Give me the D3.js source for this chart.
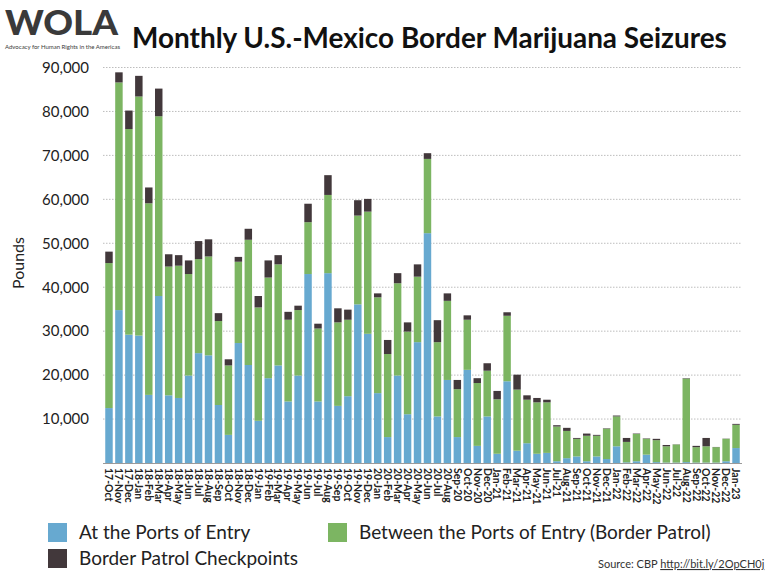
<!DOCTYPE html>
<html><head><meta charset="utf-8">
<script src="https://cdn.jsdelivr.net/npm/d3@7"></script>
<style>body{margin:0;background:#fff}svg{display:block}</style>
</head><body>
<svg id="c" width="768" height="576"></svg>
<script>
const months = ["17-Oct","17-Nov","17-Dec","18-Jan","18-Feb","18-Mar","18-Apr","18-May","18-Jun","18-Jul","18-Aug","18-Sep","18-Oct","18-Nov","18-Dec","19-Jan","19-Feb","19-Mar","19-Apr","19-May","19-Jun","19-Jul","19-Aug","19-Sep","19-Oct","19-Nov","19-Dec","20-Jan","20-Feb","20-Mar","20-Apr","20-May","20-Jun","20-Jul","20-Aug","Sep-20","Oct-20","Nov-20","Dec-20","Jan-21","Feb-21","Mar-21","Apr-21","May-21","Jun-21","Jul-21","Aug-21","Sep-21","Oct-21","Nov-21","Dec-21","Jan-22","Feb-22","Mar-22","Apr-22","May-22","Jun-22","Jul-22","Aug-22","Sep-22","Oct-22","Nov-22","Dec-22","Jan-23"];
const portsOfEntry = [12500,34800,29200,29000,15500,38000,15400,14800,19900,25000,24500,13200,6400,27300,22300,9600,19300,22200,14000,19900,43000,14000,43200,13000,15200,36100,29400,15900,5900,19900,11100,27500,52300,10600,18900,5900,21200,3900,10600,2100,18600,2800,4500,2100,2300,400,1100,1500,400,1500,900,3800,150,400,1900,200,100,100,200,100,100,100,400,3400];
const betweenPorts = [33000,51800,46800,54400,43600,40900,29300,30100,23100,21400,22500,19100,15800,18500,28500,25800,22900,23000,18600,14900,11800,16600,17800,19000,17400,20200,27800,21800,18900,21000,18800,14900,16900,16900,18000,10900,11400,14300,10400,12400,14900,13900,9900,11700,11500,7900,6200,4000,5800,4700,6900,6800,4650,6200,3600,5000,3700,4100,19000,3500,3700,3500,5100,5300];
const checkpoints = [2600,2300,4200,4700,3600,6300,2800,2400,3100,4100,3900,1800,1400,1100,2500,2600,3900,2100,1800,1000,4200,1100,4500,3200,2300,3500,2900,900,3200,2300,2100,2800,1300,5000,1700,2100,1000,1100,1700,1900,800,3400,1000,1000,600,300,700,200,500,200,100,200,900,100,100,300,300,50,100,300,1900,50,50,200];
const seriesNames = ["At the Ports of Entry","Between the Ports of Entry (Border Patrol)","Border Patrol Checkpoints"];
const seriesColors = ["#67a9d0","#7cb562","#42383b"];
const yTicks = [10000,20000,30000,40000,50000,60000,70000,80000,90000];

const svg = d3.select("#c");
const font = "Lato, 'Open Sans', sans-serif";

const x = d3.scaleBand().domain(months).range([104,741]).paddingInner(0.25).paddingOuter(0.125);
const y = d3.scaleLinear().domain([0,90000]).range([463,67.5]);

// gridlines
svg.append("g").selectAll("line").data(yTicks).join("line")
  .attr("x1",103).attr("x2",742).attr("y1",d=>y(d)).attr("y2",d=>y(d))
  .attr("stroke","#bdbdbd").attr("stroke-width",1).attr("stroke-dasharray","1.5,1.5");

// y axis labels
const yAxis = d3.axisLeft(y).tickValues(yTicks).tickSize(0).tickPadding(0).tickFormat(d3.format(","));
const ya = svg.append("g").attr("transform","translate(89,0)").call(yAxis);
ya.select(".domain").remove();
ya.selectAll("text").attr("font-family",font).attr("font-size",15).attr("fill","#222");

// stacked bars
const table = months.map((m,i)=>({m, a:portsOfEntry[i], b:betweenPorts[i], c:checkpoints[i]}));
const stack = d3.stack().keys(["a","b","c"])(table);
svg.append("g").selectAll("g").data(stack).join("g").attr("fill",(d,i)=>seriesColors[i])
  .selectAll("rect").data(d=>d).join("rect")
  .attr("x",d=>x(d.data.m)).attr("width",x.bandwidth())
  .attr("y",d=>y(d[1])).attr("height",d=>Math.max(0,y(d[0])-y(d[1])));

// baseline
svg.append("line").attr("x1",103).attr("x2",742).attr("y1",y(0)+0.5).attr("y2",y(0)+0.5)
  .attr("stroke","#9a9a9a").attr("stroke-width",1);

// x labels
const xAxis = d3.axisBottom(x).tickSize(0).tickPadding(0);
const xa = svg.append("g").attr("transform",`translate(0,${y(0)+3})`).call(xAxis);
xa.select(".domain").remove();
xa.selectAll("text").attr("font-family",font).attr("font-weight",700).attr("font-size",10.5).attr("fill","#222")
  .attr("transform","rotate(90)").attr("text-anchor","start").attr("dy","0.35em").attr("x",2).attr("y",0);

// Pounds label
svg.append("text").attr("transform","translate(24,263) rotate(-90)").attr("text-anchor","middle")
  .attr("font-family",font).attr("font-size",16).attr("fill","#222").text("Pounds");

// title
const title = svg.append("text").attr("x",132).attr("y",48).attr("font-family",font).attr("font-weight",700)
  .attr("font-size",28).attr("fill","#111").text("Monthly U.S.-Mexico Border Marijuana Seizures");
const tl = title.node().getComputedTextLength();
title.attr("font-size",28*595/tl);

// logo
const logo = svg.append("g").attr("fill","#3a3a3a");
logo.append("text").attr("x",5).attr("y",35).attr("font-family",font).attr("font-weight",900)
  .attr("font-size",35).attr("textLength",113).attr("lengthAdjust","spacingAndGlyphs").text("WOLA");
logo.append("text").attr("x",5).attr("y",49).attr("font-family",font).attr("font-size",6)
  .attr("textLength",115).attr("lengthAdjust","spacingAndGlyphs").text("Advocacy for Human Rights in the Americas");

// legend
const leg = [{i:0,x:48,y:523},{i:1,x:328,y:523},{i:2,x:48,y:549}];
const lg = svg.append("g").selectAll("g").data(leg).join("g");
lg.append("rect").attr("x",d=>d.x).attr("y",d=>d.y).attr("width",19).attr("height",19).attr("fill",d=>seriesColors[d.i]);
lg.append("text").attr("x",d=>d.x+31).attr("y",d=>d.y+16).attr("font-family",font).attr("font-size",19)
  .attr("fill","#222").text(d=>seriesNames[d.i]);

// source
const src = svg.append("text").attr("x",598).attr("y",568).attr("font-family",font).attr("font-size",11).attr("fill","#333");
src.append("tspan").text("Source: CBP ");
src.append("tspan").attr("text-decoration","underline").text("http://bit.ly/2OpCH0j");
</script>
</body></html>
